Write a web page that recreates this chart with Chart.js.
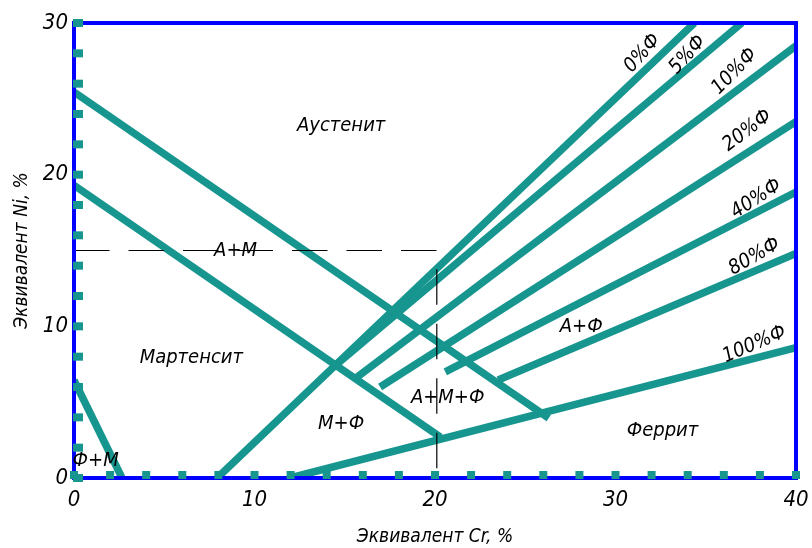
<!DOCTYPE html>
<html>
<head>
<meta charset="utf-8">
<script src="https://cdn.jsdelivr.net/npm/chart.js@4.4.0/dist/chart.umd.min.js"></script>
<style>
  html, body { margin: 0; padding: 0; background: #fff; }
  #wrap { width: 812px; height: 548px; }
</style>
</head>
<body>
<div id="wrap"><canvas id="myCanvas" width="812" height="548"></canvas></div>
<script>
// phase boundaries (Cr eq, Ni eq)
const austeniteLine = [[0, 25.45], [26.3, 3.95]];
const martensiteLine = [[0, 19.3], [20.3, 2.7]];
const ferriteMartLine = [[0, 6.45], [2.66, 0]];
const dashedLine = [[0, 15], [20.1, 15], [20.1, 0]];

// ferrite content lines
const ferriteNames = ['0%Ф', '5%Ф', '10%Ф', '20%Ф', '40%Ф', '80%Ф', '100%Ф'];
const ferriteStart = [[7.93, 0], [14.63, 7.58], [15.69, 6.66], [16.96, 6.0], [20.57, 7.0], [23.5, 6.46], [11.97, 0]];
const ferriteEnd = [[34.37, 30], [37.0, 30], [40, 28.5], [40, 23.5], [40, 18.85], [40, 14.8], [40, 8.6]];
const ferriteLabelAt = [[31.5, 28.0], [34.0, 27.9], [36.6, 26.8], [37.3, 22.9], [37.8, 18.4], [37.7, 14.6], [37.7, 8.8]];
const ferriteLabelAngle = [-48, -48, -46, -37, -33, -30, -23];

// region names
const regionNames = ['Аустенит', 'А+М', 'Мартенсит', 'М+Ф', 'А+М+Ф', 'А+Ф', 'Феррит', 'Ф+М'];
const regionAt = [[14.8, 23.2], [8.95, 15.0], [6.5, 7.95], [14.8, 3.6], [20.7, 5.3], [28.1, 10.0], [32.6, 3.1], [1.2, 1.15]];

const xTicks = [0, 10, 20, 30, 40];
const yTicks = [0, 10, 20, 30];

const TEAL = '#17958f';
const BLUE = '#0000ff';
const FONT = "'Liberation Sans Narrow', 'DejaVu Sans Condensed', 'Liberation Sans', sans-serif";

function pts(arr) { return arr.map(p => ({x: p[0], y: p[1]})); }

const datasets = [];
datasets.push({data: pts(dashedLine), borderColor: '#000', borderWidth: 1.2, borderDash: [35.5, 19]});
[austeniteLine, martensiteLine, ferriteMartLine].forEach(l => {
  datasets.push({data: pts(l), borderColor: TEAL, borderWidth: 7.5});
});
ferriteNames.forEach((n, i) => {
  datasets.push({label: n, data: pts([ferriteStart[i], ferriteEnd[i]]), borderColor: TEAL, borderWidth: 7.5});
});
datasets.forEach(d => { d.showLine = true; d.pointRadius = 0; d.borderCapStyle = 'butt'; d.fill = false; });

const decor = {
  id: 'decor',
  afterDatasetsDraw(chart) {
    const {ctx, chartArea: a, scales: {x, y}} = chart;
    ctx.save();
    // frame
    ctx.strokeStyle = BLUE;
    ctx.lineWidth = 4;
    ctx.strokeRect(a.left, a.top, a.right - a.left, a.bottom - a.top);
    // teal tick squares every 2 units
    ctx.fillStyle = TEAL;
    for (let v = 0; v <= 40; v += 2) {
      const px = x.getPixelForValue(v);
      ctx.fillRect(px - 4, a.bottom - 7, 8, 8);
    }
    for (let v = 0; v <= 30; v += 2) {
      const py = y.getPixelForValue(v);
      ctx.fillRect(a.left - 1, py - 4, 10, 8);
    }
    // texts
    ctx.fillStyle = '#000';
    ctx.textAlign = 'center';
    ctx.textBaseline = 'middle';
    ctx.font = 'italic 20px ' + FONT;
    regionNames.forEach((t, i) => {
      ctx.fillText(t, x.getPixelForValue(regionAt[i][0]), y.getPixelForValue(regionAt[i][1]));
    });
    ferriteNames.forEach((t, i) => {
      ctx.save();
      ctx.translate(x.getPixelForValue(ferriteLabelAt[i][0]), y.getPixelForValue(ferriteLabelAt[i][1]));
      ctx.rotate(ferriteLabelAngle[i] * Math.PI / 180);
      ctx.fillText(t, 0, 0);
      ctx.restore();
    });
    ctx.restore();
  }
};

const ctx = document.getElementById('myCanvas').getContext('2d');
new Chart(ctx, {
  type: 'scatter',
  data: {datasets},
  options: {
    responsive: false,
    animation: false,
    layout: {padding: {top: 23, right: 16, left: 0, bottom: 0}},
    plugins: {legend: {display: false}, tooltip: {enabled: false}},
    scales: {
      x: {
        type: 'linear', min: 0, max: 40,
        afterBuildTicks: s => { s.ticks = xTicks.map(v => ({value: v})); },
        afterFit: s => { s.height = 70; s.paddingLeft = 0; s.paddingRight = 0; },
        grid: {display: false, drawTicks: false},
        border: {display: false},
        ticks: {padding: 9, color: '#000', maxRotation: 0, font: {family: FONT, size: 22, style: 'italic'}},
        title: {display: true, text: 'Эквивалент Cr, %', color: '#000', padding: {bottom: 0}, font: {family: FONT, size: 19, style: 'italic'}}
      },
      y: {
        type: 'linear', min: 0, max: 30,
        afterBuildTicks: s => { s.ticks = yTicks.map(v => ({value: v})); },
        afterFit: s => { s.width = 74; s.paddingTop = 0; s.paddingBottom = 0; },
        grid: {display: false, drawTicks: false},
        border: {display: false},
        ticks: {padding: 6, color: '#000', font: {family: FONT, size: 22, style: 'italic'}},
        title: {display: true, text: 'Эквивалент Ni, %', color: '#000', padding: {top: 11}, font: {family: FONT, size: 19, style: 'italic'}}
      }
    }
  },
  plugins: [decor]
});
</script>
</body>
</html>
